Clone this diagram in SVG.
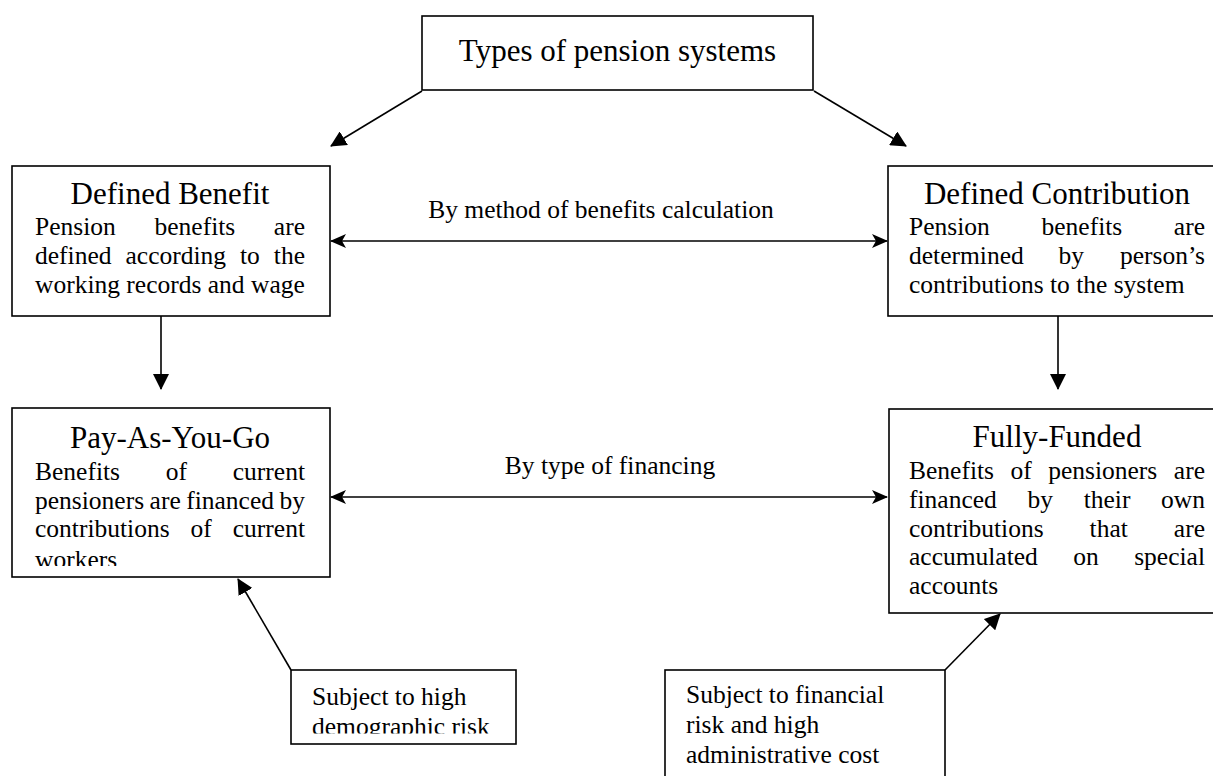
<svg xmlns="http://www.w3.org/2000/svg" width="1213" height="776" viewBox="0 0 1213 776">
<style>
.box{fill:#fff;stroke:#000;stroke-width:1.6}
.title{font-family:"Liberation Serif","Times New Roman",serif;font-size:31px;fill:#000;text-anchor:middle}
.body{font-family:"Liberation Serif","Times New Roman",serif;font-size:25.5px;fill:#000}
.e{text-anchor:end}
.conn{stroke:#000;stroke-width:1.6;fill:none}
.arr{marker-end:url(#tri)}
.dbl{marker-start:url(#stealth);marker-end:url(#stealth)}
</style>
<defs>
<marker id="tri" markerUnits="userSpaceOnUse" markerWidth="16" markerHeight="16" viewBox="0 0 16 16" refX="15" refY="8" orient="auto">
<path d="M0,0 L16,8 L0,16 z" fill="#000"/>
</marker>
<marker id="stealth" markerUnits="userSpaceOnUse" markerWidth="16" markerHeight="14" viewBox="0 0 16 14" refX="15" refY="7" orient="auto-start-reverse">
<path d="M0,0 L16,7 L0,14 L4,7 z" fill="#000"/>
</marker>
<clipPath id="clipPayg"><rect x="0" y="400" width="340" height="166"/></clipPath>
<clipPath id="clipDemo"><rect x="280" y="660" width="250" height="73.5"/></clipPath>
</defs>

<g id="connectors">
<line class="conn arr" x1="422" y1="91" x2="331" y2="146"/>
<line class="conn arr" x1="814" y1="91" x2="906" y2="146"/>
<line class="conn dbl" x1="331" y1="241" x2="887" y2="241"/>
<line class="conn arr" x1="161" y1="316" x2="161" y2="389"/>
<line class="conn arr" x1="1058" y1="316" x2="1058" y2="389"/>
<line class="conn dbl" x1="331" y1="497" x2="887" y2="497"/>
<line class="conn arr" x1="291" y1="670" x2="238" y2="579"/>
<line class="conn arr" x1="945" y1="670" x2="1000" y2="614"/>
<text class="body" x="601" y="218" text-anchor="middle">By method of benefits calculation</text>
<text class="body" x="610" y="474" text-anchor="middle">By type of financing</text>
</g>

<g id="types">
<rect class="box" x="422" y="16" width="391" height="74"/>
<text class="title" x="617.5" y="61">Types of pension systems</text>
</g>

<g id="defined-benefit">
<rect class="box" x="12" y="166" width="318" height="150"/>
<text class="title" x="170" y="204">Defined Benefit</text>
<text class="body" y="235"><tspan x="35">Pension</tspan><tspan x="154.5">benefits</tspan><tspan x="305" class="e" text-anchor="end">are</tspan></text>
<text class="body" y="264"><tspan x="35">defined</tspan><tspan x="125.5">according</tspan><tspan x="240">to</tspan><tspan x="305" text-anchor="end">the</tspan></text>
<text class="body" x="35" y="293">working records and wage</text>
</g>

<g id="defined-contribution">
<rect class="box" x="888" y="166" width="330" height="150"/>
<text class="title" x="1057" y="204">Defined Contribution</text>
<text class="body" y="235"><tspan x="909">Pension</tspan><tspan x="1041.5">benefits</tspan><tspan x="1205" text-anchor="end">are</tspan></text>
<text class="body" y="264"><tspan x="909">determined</tspan><tspan x="1058.4">by</tspan><tspan x="1205" text-anchor="end">person’s</tspan></text>
<text class="body" x="909" y="293">contributions to the system</text>
</g>

<g id="pay-as-you-go">
<rect class="box" x="12" y="408" width="318" height="169"/>
<text class="title" x="170" y="448">Pay-As-You-Go</text>
<text class="body" y="480"><tspan x="35">Benefits</tspan><tspan x="165.8">of</tspan><tspan x="305" text-anchor="end">current</tspan></text>
<text class="body" y="508.5"><tspan x="35">pensioners</tspan><tspan x="149.6">are</tspan><tspan x="186.2">financed</tspan><tspan x="305" text-anchor="end">by</tspan></text>
<text class="body" y="537"><tspan x="35">contributions</tspan><tspan x="190.6">of</tspan><tspan x="305" text-anchor="end">current</tspan></text>
<text class="body" x="35" y="568" clip-path="url(#clipPayg)">workers</text>
</g>

<g id="fully-funded">
<rect class="box" x="889" y="409" width="330" height="204"/>
<text class="title" x="1057" y="447">Fully-Funded</text>
<text class="body" y="479"><tspan x="909">Benefits</tspan><tspan x="1010.5">of</tspan><tspan x="1048.2">pensioners</tspan><tspan x="1205" text-anchor="end">are</tspan></text>
<text class="body" y="508"><tspan x="909">financed</tspan><tspan x="1027.5">by</tspan><tspan x="1083.7">their</tspan><tspan x="1205" text-anchor="end">own</tspan></text>
<text class="body" y="536.5"><tspan x="909">contributions</tspan><tspan x="1089.6">that</tspan><tspan x="1205" text-anchor="end">are</tspan></text>
<text class="body" y="565"><tspan x="909">accumulated</tspan><tspan x="1073.3">on</tspan><tspan x="1205" text-anchor="end">special</tspan></text>
<text class="body" x="909" y="594">accounts</text>
</g>

<g id="demographic-risk">
<rect class="box" x="291" y="670" width="225" height="74"/>
<text class="body" x="312" y="705">Subject to high</text>
<text class="body" x="312" y="735" clip-path="url(#clipDemo)">demographic risk</text>
</g>

<g id="financial-risk">
<rect class="box" x="665" y="670" width="280" height="120"/>
<text class="body" x="686" y="703">Subject to financial</text>
<text class="body" x="686" y="733">risk and high</text>
<text class="body" x="686" y="763">administrative cost</text>
</g>
</svg>
